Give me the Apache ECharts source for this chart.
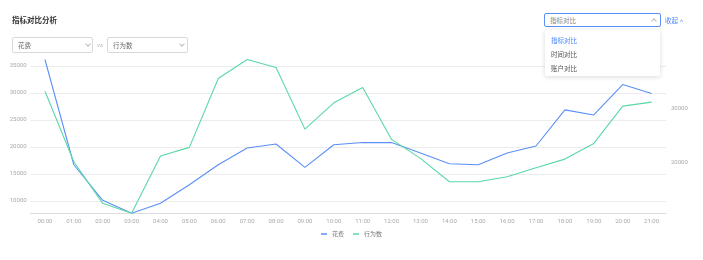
<!DOCTYPE html>
<html>
<head>
<meta charset="utf-8">
<script src="https://cdn.jsdelivr.net/npm/echarts@6/dist/echarts.min.js"></script>
<style>
  html, body { margin: 0; padding: 0; background: #fff; }
  #wrap { position: relative; width: 703px; height: 260px; overflow: hidden; font-family: Roboto, "Noto Sans CJK SC", sans-serif; }
  #chart { position: absolute; left: 0; top: 0; width: 703px; height: 260px; }
  .title { position: absolute; left: 12px; top: 14px; font-size: 7.5px; font-weight: bold; color: #333; }
  .sel { position: absolute; box-sizing: border-box; border: 1px solid #d9d9d9; border-radius: 2px; background: #fff; font-size: 6.5px; color: #666; }
  .sel span.t { position: absolute; left: 5px; top: 50%; transform: translateY(-50%); }
  .chev { position: absolute; top: 50%; width: 3px; height: 3px; border-right: 1px solid #bbb; border-bottom: 1px solid #bbb; }
  .vs { position: absolute; left: 97px; top: 41px; font-size: 6px; color: #bbb; }
  .menu { position: absolute; left: 545px; top: 30px; width: 115px; height: 46px; background: #fff; border-radius: 2px; box-shadow: 0 1px 5px rgba(0,0,0,0.15); font-size: 6.5px; color: #555; }
  .menu div { position: absolute; left: 6px; }
  .link { position: absolute; left: 665px; top: 15px; font-size: 6.5px; color: #4a86f7; }
</style>
</head>
<body>
<div id="wrap">
  <div id="chart"></div>
  <div class="title">指标对比分析</div>
  <div class="sel" style="left:12px;top:37px;width:81px;height:16px;"><span class="t">花费</span><span class="chev" style="left:73px;margin-top:-3px;transform:rotate(45deg);"></span></div>
  <div class="vs">vs</div>
  <div class="sel" style="left:107px;top:37px;width:81px;height:16px;"><span class="t">行为数</span><span class="chev" style="left:72px;margin-top:-3px;transform:rotate(45deg);"></span></div>
  <div class="sel" style="left:544px;top:13px;width:117px;height:14px;border-color:#5b8ff9;color:#888;"><span class="t">指标对比</span><span class="chev" style="left:107px;margin-top:-1px;transform:rotate(225deg);"></span></div>
  <div class="link">收起 <span style="font-size:6px;">&#x2C4;</span></div>
  <div class="menu">
    <div style="top:5px;color:#4a86f7;">指标对比</div>
    <div style="top:19px;">时间对比</div>
    <div style="top:33px;">账户对比</div>
  </div>
</div>
<script>
const categories = ['00:00','01:00','02:00','03:00','04:00','05:00','06:00','07:00','08:00','09:00','10:00','11:00','12:00','13:00','14:00','15:00','16:00','17:00','18:00','19:00','20:00','21:00'];
const costValues = [36200, 16700, 10100, 7700, 9550, 13000, 16700, 19800, 20550, 16200, 20400, 20830, 20800, 18870, 16880, 16690, 18870, 20170, 26860, 25930, 31560, 29890];
const actionValues = [33270, 20190, 12500, 10650, 21250, 22860, 35620, 39140, 37660, 26240, 31110, 33960, 24340, 20820, 16500, 16500, 17420, 19090, 20690, 23590, 30500, 31240];
const seriesNames = ['花费', '行为数'];
const colors = ['#5b8ff9', '#5ad8a6'];

const chart = echarts.init(document.getElementById('chart'), null, { renderer: 'canvas' });
const labelFont = { fontSize: 6, color: '#aaa', fontFamily: 'Roboto, "Noto Sans CJK SC", sans-serif' };
const plain = v => String(v);
chart.setOption({
  animation: false,
  color: colors,
  grid: { left: 30.5, right: 37, top: 59.5, bottom: 46.7, containLabel: false },
  legend: {
    bottom: 18,
    left: 'center',
    icon: 'rect',
    itemWidth: 6,
    itemHeight: 1.5,
    itemGap: 9,
    textStyle: { fontSize: 6, color: '#777', fontFamily: '"Noto Sans CJK SC", sans-serif' },
    data: seriesNames
  },
  xAxis: {
    type: 'category',
    data: categories,
    boundaryGap: true,
    axisLine: { lineStyle: { color: '#ddd' } },
    axisTick: { length: 3, lineStyle: { color: '#ddd' } },
    axisLabel: Object.assign({ margin: 5 }, labelFont)
  },
  yAxis: [
    {
      type: 'value',
      scale: true,
      min: 'dataMin',
      max: 'dataMax',
      splitNumber: 5,
      axisLine: { show: false },
      axisTick: { show: false },
      axisLabel: Object.assign({ margin: 4, showMinLabel: false, showMaxLabel: false, formatter: plain }, labelFont),
      splitLine: { show: true, showMinLine: false, showMaxLine: false, lineStyle: { color: '#ececec' } }
    },
    {
      type: 'value',
      scale: true,
      min: 'dataMin',
      max: 'dataMax',
      splitNumber: 3,
      axisLine: { show: false },
      axisTick: { show: false },
      axisLabel: Object.assign({ margin: 5, showMinLabel: false, showMaxLabel: false, formatter: plain }, labelFont),
      splitLine: { show: false }
    }
  ],
  series: [
    { name: seriesNames[0], type: 'line', yAxisIndex: 0, data: costValues, showSymbol: false, symbol: 'none', lineStyle: { width: 1.1 } },
    { name: seriesNames[1], type: 'line', yAxisIndex: 1, data: actionValues, showSymbol: false, symbol: 'none', lineStyle: { width: 1.1 } }
  ]
});
</script>
</body>
</html>
